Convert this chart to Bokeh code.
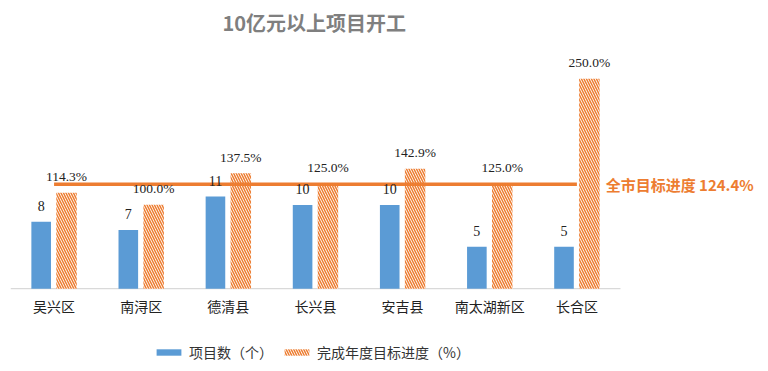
from bokeh.plotting import figure
from bokeh.models import ColumnDataSource, Range1d, Legend, LegendItem
from bokeh.core.properties import value
from bokeh.embed import file_html
from bokeh.resources import INLINE

categories = ["吴兴区", "南浔区", "德清县", "长兴县", "安吉县", "南太湖新区", "长合区"]
project_counts = [8, 7, 11, 10, 10, 5, 5]
progress_pct = [114.3, 100.0, 137.5, 125.0, 142.9, 125.0, 250.0]
city_target = 124.4
title_text = "10亿元以上项目开工"
series_names = ["项目数（个）", "完成年度目标进度（%）"]
target_label = "全市目标进度 124.4%"

BLUE = "#5B9BD5"
ORANGE = "#ED7D31"
CJK = "Noto Sans CJK SC"
SERIF = "Liberation Serif"

n = len(categories)
xc = [i + 0.5 for i in range(n)]
src = ColumnDataSource(dict(
    x=xc,
    xb=[v - 0.148 for v in xc],
    xo=[v + 0.143 for v in xc],
    cat=categories,
    cnt=project_counts,
    pct=progress_pct,
    cnt_lbl=[str(v) for v in project_counts],
    pct_lbl=[f"{v:.1f}%" for v in progress_pct],
    tgt=[city_target] * n,
))

p = figure(x_range=Range1d(0, 8.607), y_range=Range1d(-8.93, 29.52),
           width=760, height=363, output_backend="svg", toolbar_location=None,
           min_border_left=10, min_border_right=0, min_border_top=40, min_border_bottom=0)
p.extra_y_ranges = {"pct": Range1d(-89.0, 294.4)}

p.title.text = title_text
p.title.align = "left"
p.title.offset = 212
p.title.text_font = CJK
p.title.text_font_size = "20px"
p.title.text_font_style = "bold"
p.title.text_color = "#7f7f7f"

# baseline (category axis line)
p.segment(x0=0, x1=n, y0=0, y1=0, line_color="#d9d9d9", line_width=1.2)

r_blue = p.vbar(x="xb", top="cnt", width=0.225, source=src,
                fill_color=BLUE, line_color=None)
r_orange = p.vbar(x="xo", top="pct", width=0.235, source=src,
                  y_range_name="pct", fill_color="white", line_color=None,
                  hatch_pattern="\\", hatch_color=ORANGE, hatch_scale=5, hatch_weight=1.5)

p.line(x="x", y="tgt", source=src, y_range_name="pct", line_color=ORANGE, line_width=3.5)

p.text(x="xb", y="cnt", text="cnt_lbl", source=src,
       text_align="center", text_baseline="middle", y_offset=-16,
       text_font=value(SERIF), text_font_size="14px", text_color="#222222")
p.text(x="xo", y="pct", text="pct_lbl", source=src,
       y_range_name="pct", text_align="center", text_baseline="middle", y_offset=-16,
       text_font=value(SERIF), text_font_size="13.5px", text_color="#222222")

# category labels
p.text(x="x", y=0, text="cat", source=src, text_align="center", text_baseline="middle",
       y_offset=17, text_font=value(CJK), text_font_size="14px", text_color="#222222")

# target label
p.text(x=[n - 0.17], y=[city_target], text=[target_label], y_range_name="pct",
       text_align="left", text_baseline="middle", text_font=value(CJK),
       text_font_size="15px", text_font_style="bold", text_color=ORANGE)

p.xaxis.visible = False
p.yaxis.visible = False
p.xgrid.visible = False
p.ygrid.visible = False
p.outline_line_color = None

legend = Legend(items=[LegendItem(label=series_names[0], renderers=[r_blue]),
                       LegendItem(label=series_names[1], renderers=[r_orange])],
                orientation="horizontal", location=(143, 1),
                glyph_width=31, glyph_height=8, label_standoff=5, spacing=8,
                label_text_font=CJK, label_text_font_size="14px", label_text_color="#333333",
                border_line_color=None, background_fill_alpha=0, margin=0, padding=2)
p.add_layout(legend)

open("out.html", "w").write(file_html(p, INLINE))
